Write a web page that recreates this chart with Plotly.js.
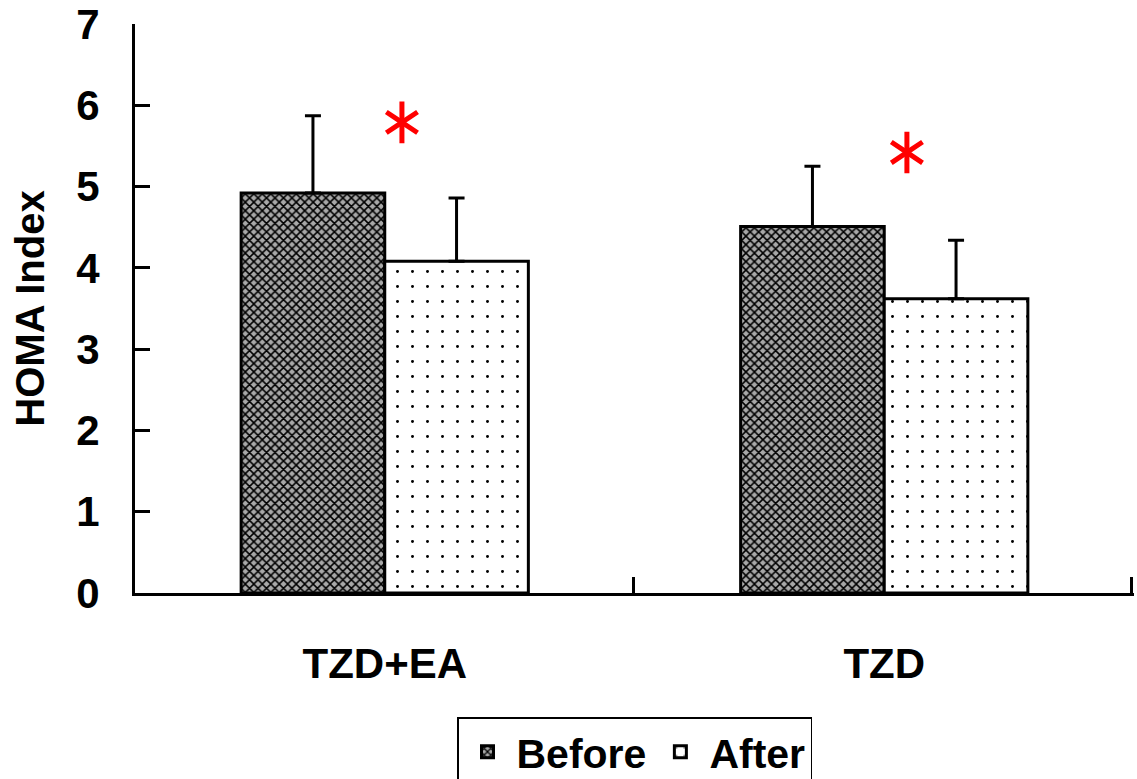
<!DOCTYPE html>
<html>
<head>
<meta charset="utf-8">
<script src="https://cdn.plot.ly/plotly-3.0.1.min.js"></script>
<style>html,body{margin:0;padding:0;background:#fff;}#chart{width:1137px;height:779px;}</style>
</head>
<body>
<div id="chart"></div>
<script>
var categories = ["TZD+EA", "TZD"];
var beforeValues = [4.92, 4.51];
var beforeErrors = [0.95, 0.74];
var afterValues = [4.08, 3.62];
var afterErrors = [0.78, 0.72];
var starX = [0.036, 1.05];
var starY = [5.79, 5.42];
var yTicks = [0, 1, 2, 3, 4, 5, 6, 7];
var xBoundaries = [-0.5, 0.5, 1.5];

var fontFam = "Liberation Sans, Arial, sans-serif";

var before = {
  type: "bar", name: "Before", x: categories, y: beforeValues,
  error_y: {type: "data", symmetric: false, array: beforeErrors, arrayminus: [0, 0], color: "#000", thickness: 3, width: 8},
  marker: {color: "#8a8a8a", line: {color: "#000", width: 3},
    pattern: {shape: "x", fgcolor: "#000", bgcolor: "#a8a8a8", size: 6, solidity: 0.45}},
  hoverinfo: "skip"
};
var after = {
  type: "bar", name: "After", x: categories, y: afterValues,
  error_y: {type: "data", symmetric: false, array: afterErrors, arrayminus: [0, 0], color: "#000", thickness: 3, width: 8},
  marker: {color: "#fff", line: {color: "#000", width: 3},
    pattern: {shape: ".", fgcolor: "#000", bgcolor: "#fff", size: 15, solidity: 0.03}},
  hoverinfo: "skip"
};
var starA = {
  type: "scatter", mode: "markers", x: starX, y: starY, xaxis: "x2", showlegend: false, hoverinfo: "skip",
  marker: {symbol: "y-up-open", size: 26, color: "#ff0000", line: {color: "#ff0000", width: 5}}
};
var starB = {
  type: "scatter", mode: "markers", x: starX, y: starY, xaxis: "x2", showlegend: false, hoverinfo: "skip",
  marker: {symbol: "y-down-open", size: 26, color: "#ff0000", line: {color: "#ff0000", width: 5}}
};

var layout = {
  width: 1137, height: 779,
  margin: {l: 135, r: 3, t: 24, b: 186, autoexpand: false},
  paper_bgcolor: "#fff", plot_bgcolor: "#fff",
  barmode: "group", bargap: 0.425, bargroupgap: 0,
  font: {family: fontFam, size: 40, color: "#000", weight: "bold"},
  xaxis: {
    type: "category", range: [-0.5, 1.5], showline: true, linecolor: "#000", linewidth: 3,
    ticks: "", showgrid: false, zeroline: false, ticklabelstandoff: 32,
    tickfont: {family: fontFam, size: 42, color: "#000", weight: "bold"}
  },
  xaxis2: {
    overlaying: "x", side: "bottom", anchor: "y", range: [-0.5, 1.506], visible: true,
    showline: false, showgrid: false, zeroline: false, showticklabels: false,
    tickmode: "array", tickvals: xBoundaries,
    ticks: "inside", ticklen: 16, tickwidth: 3, tickcolor: "#000"
  },
  yaxis: {
    range: [0, 7], tickmode: "array", tickvals: yTicks, ticktext: yTicks.map(String),
    showline: true, linecolor: "#000", linewidth: 3,
    ticks: "inside", ticklen: 15, tickwidth: 3, tickcolor: "#000",
    showgrid: false, zeroline: false, ticklabelstandoff: 24,
    tickfont: {family: fontFam, size: 42, color: "#000", weight: "bold"},
    title: {text: "HOMA Index", standoff: 20, font: {family: fontFam, size: 40, color: "#000", weight: "bold"}}
  },
  showlegend: true,
  legend: {
    orientation: "h", x: 0.5, xanchor: "center", y: -0.218, yanchor: "top",
    bordercolor: "#000", borderwidth: 1.5, bgcolor: "#fff",
    font: {family: fontFam, size: 41, color: "#000", weight: "bold"},
    itemwidth: 48, traceorder: "normal"
  }
};

Plotly.newPlot("chart", [before, after, starA, starB], layout, {displayModeBar: false, staticPlot: true});
</script>
</body>
</html>
